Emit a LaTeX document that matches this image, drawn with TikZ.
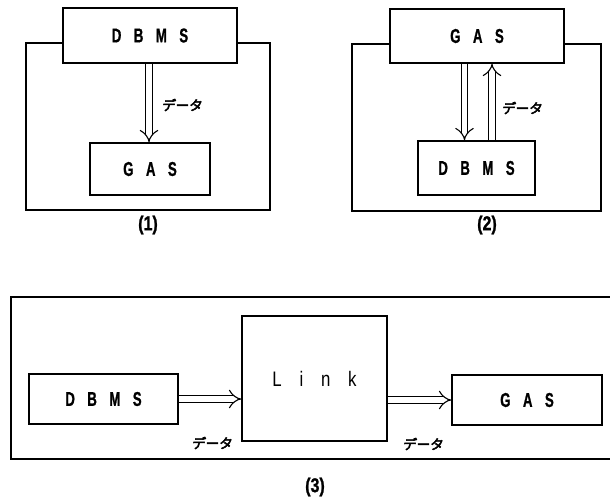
\documentclass[tikz,border=0pt]{standalone}
\usepackage{fontspec}
\usetikzlibrary{arrows.meta}
\newfontfamily\boxfont{Liberation Sans}[FakeStretch=0.66, WordSpace=3.4, FakeBold=0.8]
\newfontfamily\linkfont{Liberation Sans}[FakeStretch=0.8, WordSpace=3.8]
\newfontfamily\capfont{Liberation Sans}[FakeStretch=0.8, FakeBold=1]
\newfontfamily\jpfont{Noto Sans CJK JP}[FakeBold=3.5, FakeSlant=0.1]
\tikzset{
  box/.style={draw, fill=white, line width=1.6pt, inner sep=0pt, font=\fontsize{20}{22}\boxfont\bfseries\selectfont},
  frame/.style={draw, line width=1.5pt},
  dbl/.style={double, double distance=5.5pt, line width=1.1pt, -{Implies[length=5.5pt]}},
  datalabel/.style={font=\fontsize{13.5}{15}\jpfont\selectfont, inner sep=0pt},
  caption/.style={font=\fontsize{20}{22}\capfont\bfseries\selectfont, inner sep=0pt}
}
\begin{document}
\begin{tikzpicture}[x=1pt, y=-1pt]
\useasboundingbox (0,0) rectangle (610,497);
% Panel 1
\draw[frame] (26,43) rectangle (270,210);
\node[box, minimum width=174pt, minimum height=55pt] (dbms1) at (150,35.5) {D B M S};
\node[box, minimum width=120pt, minimum height=52pt] (gas1) at (150,169) {G A S};
\draw[dbl] ([xshift=-1pt]dbms1.south) -- ([xshift=-1pt]gas1.north);
\node[datalabel] (d1) at (182,105) {データ};
\node[caption] (c1) at (148,225) {(1)};
% Panel 2
\draw[frame] (352,44) rectangle (601,211);
\node[box, minimum width=174pt, minimum height=54pt] (gas2) at (477,36) {G A S};
\node[box, minimum width=117pt, minimum height=54pt] (dbms2) at (476.5,168) {D B M S};
\coordinate (dn) at (464.5,0);
\coordinate (up) at (492,0);
\draw[dbl] (dn |- gas2.south) -- (dn |- dbms2.north);
\draw[dbl] (up |- dbms2.north) -- (up |- gas2.south);
\node[datalabel] (d2) at (522,108) {データ};
\node[caption] (c2) at (487,225) {(2)};
% Panel 3
\draw[frame] (610,297) -- (11,297) -- (11,459) -- (610,459);
\node[box, minimum width=149pt, minimum height=50pt] (dbms3) at (103.5,399) {D B M S};
\node[box, minimum width=145pt, minimum height=125pt, font=\fontsize{21}{23}\linkfont\selectfont] (link) at (314.5,378.5) {L i n k};
\node[box, minimum width=150pt, minimum height=50pt] (gas3) at (527,400) {G A S};
\draw[dbl] (dbms3.east) -- (dbms3.east -| link.west);
\draw[dbl] (link.east |- gas3.west) -- (gas3.west);
\node[datalabel] (d3) at (212,443) {データ};
\node[datalabel] (d4) at (423,444) {データ};
\node[caption] (c3) at (315,487) {(3)};
\end{tikzpicture}
\end{document}
